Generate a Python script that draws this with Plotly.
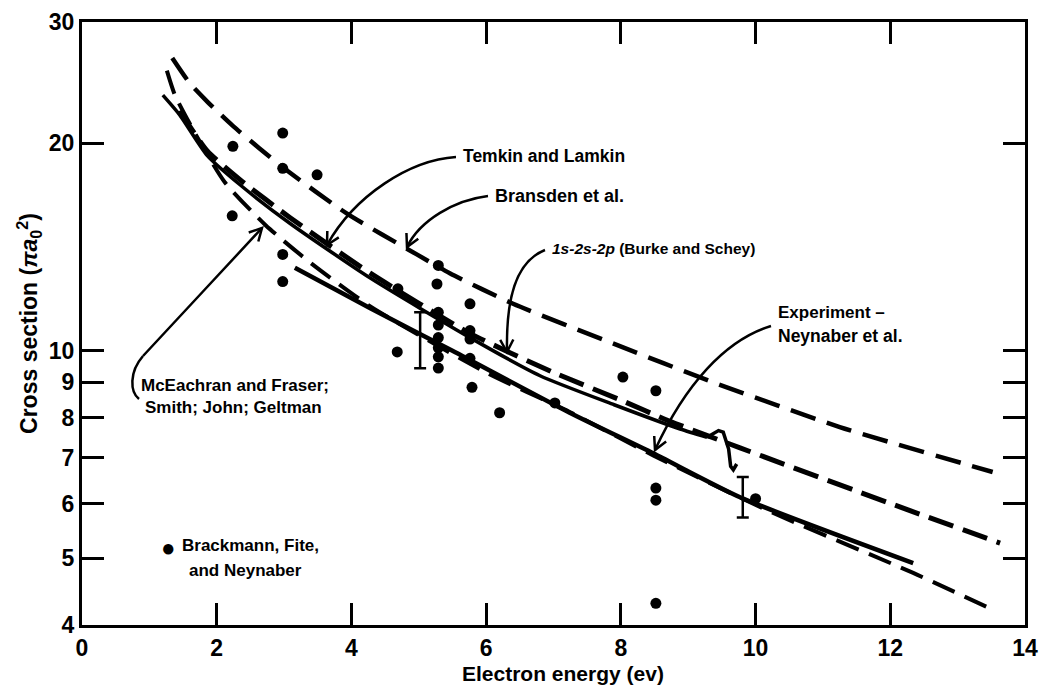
import math
import plotly.graph_objects as go

# ---------------- data ----------------
bransden_x = [1.34, 1.6, 1.87, 2.24, 3.0, 3.94, 4.97, 5.46, 6.4, 7.88, 9.37, 11.25, 13.52]
bransden_y = [26.6, 24.45, 22.94, 21.2, 18.4, 15.8, 13.8, 12.96, 11.7, 10.25, 9.0, 7.75, 6.67]

temkin_x = [1.45, 1.86, 2.35, 3.09, 4.28, 5.76, 6.99, 8.0, 8.73, 9.77, 12.07, 13.63]
temkin_y = [22.3, 19.5, 17.7, 15.6, 12.96, 10.6, 9.31, 8.48, 7.9, 7.23, 5.97, 5.26]

burke_x = [1.2, 1.45, 1.86, 2.35, 3.09, 4.28, 5.76, 6.8, 7.9, 8.88, 9.28, 9.45, 9.52, 9.6, 9.63, 9.67, 9.72]
burke_y = [23.5, 22.0, 19.2, 17.4, 15.3, 12.75, 10.45, 9.2, 8.35, 7.7, 7.49, 7.66, 7.62, 7.2, 6.8, 6.72, 6.85]

mceachran_x = [1.26, 1.38, 1.75, 2.12, 2.73, 3.4, 4.28, 6.0, 7.24, 8.48, 10.17, 12.34, 13.52]
mceachran_y = [25.5, 23.5, 20.1, 17.56, 15.2, 13.4, 11.6, 9.3, 8.15, 7.05, 5.87, 4.76, 4.21]

experiment_x = [3.16, 4.28, 5.5, 7.24, 8.48, 9.77, 12.34]
experiment_y = [13.2, 11.53, 10.0, 8.13, 7.1, 6.13, 4.92]

brackmann_x = [2.24, 2.23, 2.98, 2.98, 2.98, 2.98, 3.49, 4.69, 4.68,
               5.29, 5.27, 5.29, 5.29, 5.29, 5.29, 5.29, 5.29,
               5.76, 5.76, 5.76, 5.76, 5.79, 6.20, 7.02, 8.03, 8.52, 8.52, 8.52, 8.52, 10.0]
brackmann_y = [19.8, 15.7, 20.7, 18.4, 13.8, 12.6, 18.0, 12.3, 9.96,
               13.3, 12.5, 11.37, 10.9, 10.45, 10.1, 9.8, 9.44,
               11.7, 10.7, 10.4, 9.75, 8.85, 8.13, 8.4, 9.16, 8.75, 6.32, 6.07, 4.30, 6.1]

errbar_x = [5.02, 9.81]
errbar_lo = [9.43, 5.73]
errbar_hi = [11.37, 6.56]

x_ticks = [0, 2, 4, 6, 8, 10, 12, 14]
y_ticks = [4, 5, 6, 7, 8, 9, 10, 20, 30]
y_ticktext = [str(v) for v in y_ticks]

# ---------------- layout geometry ----------------
W, H = 1042, 688
L, R, T, B = 82, 17, 22, 63
PW, PH = W - L - R, H - T - B

def px(xp):
    return (xp - L) / PW

def py(yp):
    return (H - B - yp) / PH

FONT = "Liberation Sans, Arial, sans-serif"

fig = go.Figure()

def line(x, y, dash, width, shape="spline"):
    fig.add_trace(go.Scatter(x=x, y=y, mode="lines",
                             line=dict(color="black", width=width, dash=dash,
                                       shape=shape, smoothing=0.6),
                             hoverinfo="skip", showlegend=False))

line(bransden_x, bransden_y, "26px,12px", 4.5)
line(temkin_x, temkin_y, "26px,10px", 5)
SQ = 10  # index where the resonance wiggle starts
line(burke_x[:SQ + 1], burke_y[:SQ + 1], "solid", 3.5)
line(burke_x[SQ:], burke_y[SQ:], "solid", 3.5, "linear")
line(mceachran_x, mceachran_y, "24px,11px", 4)
line(experiment_x, experiment_y, "solid", 4.5)

fig.add_trace(go.Scatter(x=brackmann_x, y=brackmann_y, mode="markers",
                         marker=dict(color="black", size=11), showlegend=False,
                         hoverinfo="skip"))

fig.add_trace(go.Scatter(
    x=errbar_x, y=errbar_lo, mode="markers",
    marker=dict(size=1, opacity=0),
    error_y=dict(type="data", symmetric=False,
                 array=[h - l for h, l in zip(errbar_hi, errbar_lo)],
                 arrayminus=[0, 0], color="black", thickness=2.5, width=6),
    showlegend=False, hoverinfo="skip"))

# ---------------- labels ----------------
def label(text, x, y, anchor="left", size=17):
    fig.add_annotation(text=text, x=px(x), y=py(y), xref="paper", yref="paper",
                       xanchor=anchor, yanchor="middle", showarrow=False,
                       font=dict(family=FONT, size=size, color="black", weight="bold"))

label("Temkin and Lamkin", 461, 156, size=17.5)
label("Bransden et al.", 493, 196, size=18)
label("<i>1s-2s-2p</i> (Burke and Schey)", 550, 249, size=15.5)
label("Experiment –", 776, 312)
label("Neynaber et al.", 776, 336, size=17.5)
label("McEachran and Fraser;", 235, 385, "center")
label("Smith; John; Geltman", 233, 407, "center")
label("●", 168, 547, "center", size=24)
label("Brackmann, Fite,", 180, 545)
label("and Neynaber", 187, 570)
label("Electron energy (ev)", 563, 673, "center", size=21)

# ---------------- curved arrows ----------------
def arrow(p0, c1, c2, tip):
    path = "M {} {} C {} {} {} {} {} {}".format(
        px(p0[0]), py(p0[1]), px(c1[0]), py(c1[1]), px(c2[0]), py(c2[1]),
        px(tip[0]), py(tip[1]))
    fig.add_shape(type="path", path=path, xref="paper", yref="paper",
                  line=dict(color="black", width=2.5))
    dx, dy = tip[0] - c2[0], tip[1] - c2[1]
    n = math.hypot(dx, dy)
    dx, dy = dx / n, dy / n
    hl, ang = 14, math.radians(28)
    pts = []
    for s in (1, -1):
        ca, sa = math.cos(s * ang), math.sin(s * ang)
        rx, ry = dx * ca - dy * sa, dx * sa + dy * ca
        pts.append((tip[0] - hl * rx, tip[1] - hl * ry))
    head = "M {} {} L {} {} L {} {}".format(
        px(pts[0][0]), py(pts[0][1]), px(tip[0]), py(tip[1]),
        px(pts[1][0]), py(pts[1][1]))
    fig.add_shape(type="path", path=head, xref="paper", yref="paper",
                  line=dict(color="black", width=2.5))

arrow((456, 157), (410, 160), (355, 195), (327, 245))
arrow((488, 196), (455, 200), (420, 220), (407, 247))
arrow((545, 250), (515, 262), (506, 300), (507, 352))
arrow((771, 326), (725, 340), (685, 385), (655, 450))
# McEachran bracket-shaped arrow
fig.add_shape(type="path", xref="paper", yref="paper",
              path="M {} {} C {} {} {} {} {} {}".format(
                  px(139), py(399), px(130), py(392), px(129), py(372), px(143), py(356)),
              line=dict(color="black", width=2.5))
arrow((143, 356), (175, 322), (230, 262), (262, 228))

# ---------------- axes ----------------
axis_common = dict(showline=True, linecolor="black", linewidth=3, mirror="allticks",
                   ticks="inside", ticklen=22, tickwidth=2.5, tickcolor="black",
                   showgrid=False, zeroline=False, ticklabeloverflow="allow",
                   tickfont=dict(family=FONT, size=23, color="black", weight="bold"))

fig.update_xaxes(range=[0, 14], tickvals=x_ticks, ticktext=[str(v) for v in x_ticks],
                 ticklabelstandoff=0, **axis_common)
fig.update_yaxes(type="log", range=[math.log10(4), math.log10(30)],
                 tickvals=y_ticks, ticktext=y_ticktext,
                 title=dict(text="Cross section (<i>πa</i><sub>0</sub><sup>2</sup>)", standoff=5,
                            font=dict(family=FONT, size=23, color="black", weight="bold")),
                 **axis_common)

fig.update_layout(width=W, height=H, margin=dict(l=L, r=R, t=T, b=B, autoexpand=False),
                  paper_bgcolor="white", plot_bgcolor="white", showlegend=False)

fig.write_html("out.html")
